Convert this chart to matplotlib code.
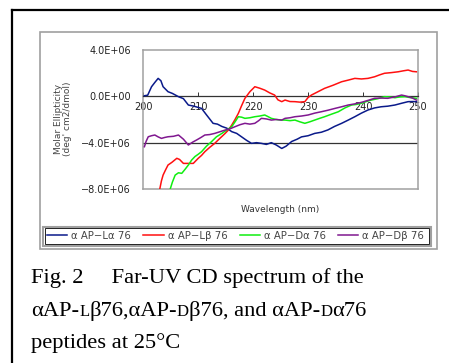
import numpy as np
import matplotlib
matplotlib.use("Agg")
import matplotlib.pyplot as plt
from matplotlib.patches import Rectangle
from matplotlib.lines import Line2D

# CD spectra (wavelength nm, ellipticity in 1E6 units)
wl_la = [200.2, 200.8, 201.5, 202.1, 202.7, 203.2, 203.6, 204.5, 205.3, 206.4, 207.3, 208.2,
         209.2, 210.6, 211.5, 212.7, 213.5, 214.3, 215.2, 216.1, 217.0, 217.9, 218.8, 219.7,
         220.6, 221.5, 222.4, 223.3, 224.2, 225.2, 226.0, 227.0, 228.0, 228.8, 230.0, 231.2,
         232.4, 233.6, 234.8, 236.1, 237.3, 238.5, 239.7, 240.9, 242.1, 243.3, 244.5, 245.8,
         247.0, 248.2, 249.0, 249.7]
ell_la = [0.05, 0.10, 0.83, 1.20, 1.55, 1.35, 0.83, 0.40, 0.25, -0.03, -0.20, -0.75,
          -0.85, -1.04, -1.60, -2.33, -2.40, -2.60, -2.75, -3.05, -3.20, -3.50, -3.80, -4.06,
          -4.00, -4.06, -4.15, -4.00, -4.20, -4.50, -4.30, -3.90, -3.70, -3.50, -3.40, -3.20,
          -3.10, -2.90, -2.60, -2.33, -2.05, -1.76, -1.45, -1.18, -1.00, -0.90, -0.85, -0.75,
          -0.60, -0.46, -0.45, -0.46]

wl_lb = [203.0, 203.3, 203.6, 204.0, 204.5, 205.2, 206.1, 206.6, 207.3, 208.2, 209.1, 210.0,
         210.6, 211.2, 212.1, 213.0, 214.0, 214.9, 215.5, 216.1, 216.7, 217.3, 217.9, 218.5,
         219.4, 220.3, 221.2, 222.1, 223.0, 223.9, 224.5, 225.2, 225.8, 226.7, 227.6, 228.5,
         229.4, 230.0, 230.6, 231.8, 233.0, 234.5, 236.1, 237.3, 238.5, 239.7, 240.9, 242.1,
         243.0, 243.9, 245.2, 246.4, 247.3, 248.2, 249.0, 249.7]
ell_lb = [-8.00, -7.30, -6.80, -6.40, -5.93, -5.70, -5.35, -5.45, -5.79, -5.79, -5.79, -5.35,
          -5.10, -4.78, -4.40, -4.06, -3.60, -3.20, -2.90, -2.48, -2.00, -1.47, -0.80, -0.17,
          0.40, 0.83, 0.70, 0.54, 0.30, 0.11, -0.30, -0.46, -0.32, -0.45, -0.46, -0.50,
          -0.46, -0.10, 0.11, 0.40, 0.69, 0.95, 1.26, 1.40, 1.55, 1.50, 1.55, 1.69,
          1.85, 1.99, 2.05, 2.12, 2.20, 2.27, 2.15, 2.12]

wl_da = [204.9, 205.3, 205.8, 206.4, 207.0, 207.6, 208.2, 208.8, 209.4, 210.0, 210.6, 211.5,
         212.4, 213.3, 214.3, 215.2, 216.1, 216.7, 217.3, 217.9, 218.5, 219.4, 220.3, 221.2,
         222.1, 222.7, 223.3, 224.2, 225.2, 225.8, 226.7, 227.6, 228.5, 229.4, 230.3, 231.2,
         232.1, 233.0, 234.2, 235.5, 236.7, 237.9, 238.8, 239.7, 240.6, 241.5, 242.7, 243.9,
         244.8, 245.8, 246.7, 247.6, 248.5, 249.7]
ell_da = [-8.00, -7.40, -6.80, -6.60, -6.65, -6.30, -5.93, -5.50, -5.20, -5.00, -4.78, -4.30,
          -3.92, -3.50, -3.20, -2.90, -2.62, -2.20, -1.76, -1.80, -1.90, -1.85, -1.76, -1.70,
          -1.61, -1.75, -1.90, -2.00, -2.05, -2.05, -2.10, -2.05, -2.20, -2.33, -2.20, -2.05,
          -1.90, -1.76, -1.55, -1.33, -1.00, -0.75, -0.70, -0.60, -0.45, -0.32, -0.20, -0.03,
          -0.05, -0.12, -0.05, -0.03, -0.10, -0.17]

wl_db = [200.2, 200.5, 200.9, 201.5, 202.1, 202.7, 203.3, 203.9, 204.5, 205.5, 206.4, 207.3,
         208.2, 209.0, 209.7, 210.5, 211.2, 212.1, 213.0, 214.0, 214.9, 215.8, 216.7, 217.6,
         218.5, 219.4, 220.3, 221.0, 221.5, 222.4, 223.3, 224.2, 225.2, 225.8, 226.7, 227.6,
         228.8, 230.0, 231.2, 232.4, 233.6, 234.9, 236.1, 237.3, 238.5, 239.7, 240.9, 242.1,
         243.3, 244.5, 245.8, 247.0, 247.6, 248.2, 249.0, 249.7]
ell_db = [-4.35, -3.90, -3.49, -3.40, -3.34, -3.50, -3.63, -3.55, -3.49, -3.45, -3.34, -3.70,
          -4.20, -3.95, -3.77, -3.55, -3.34, -3.30, -3.20, -3.05, -2.91, -2.80, -2.62, -2.45,
          -2.33, -2.40, -2.33, -2.10, -1.90, -1.95, -2.05, -2.00, -2.05, -1.90, -1.85, -1.76,
          -1.70, -1.61, -1.45, -1.33, -1.20, -1.04, -0.90, -0.75, -0.65, -0.52, -0.35, -0.17,
          -0.15, -0.17, -0.05, 0.11, 0.05, -0.03, -0.15, -0.32]

labels = ["α AP−Lα 76", "α AP−Lβ 76", "α AP−Dα 76", "α AP−Dβ 76"]
colors = ["#0a1a8a", "#ff1010", "#10ee10", "#801890"]
yticks = [4, 0, -4, -8]
ytick_labels = ["4.0E+06", "0.0E+00", "−4.0E+06", "−8.0E+06"]
xticks = [200, 210, 220, 230, 240, 250]

W, H = 449, 363
fig = plt.figure(figsize=(W / 100, H / 100), dpi=100)
fig.patch.set_facecolor("white")


def fx(px):
    return px / W


def fy(py):
    return 1 - py / H


# outer frame (only top and left edge visible)
fig.add_artist(Line2D([fx(12), fx(12)], [fy(10), 0], color="black", lw=1.6))
fig.add_artist(Line2D([fx(12), 1], [fy(10), fy(10)], color="black", lw=1.6))

# chart area box
fig.add_artist(Rectangle((fx(40), fy(249)), fx(437 - 40), (249 - 32) / H,
                         fill=False, edgecolor="#a0a0a0", lw=1.2))

ax = fig.add_axes([fx(143.3), fy(189), fx(418 - 143.3), (189 - 50) / H])
for x, y, c, lab in zip([wl_la, wl_lb, wl_da, wl_db], [ell_la, ell_lb, ell_da, ell_db], colors, labels):
    ax.plot(x, y, color=c, lw=1.1, label=lab, zorder=3)

ax.set_xlim(200, 250)
ax.set_ylim(-8, 4)
ax.axhline(-4, color="#333333", lw=0.9, zorder=1)
for s in ["left", "right", "top"]:
    ax.spines[s].set_color("#a0a0a0")
    ax.spines[s].set_linewidth(1.1)
ax.spines["bottom"].set_position(("data", 0))
ax.spines["bottom"].set_color("#333333")
ax.spines["bottom"].set_linewidth(0.9)
ax.plot([200, 250], [-8, -8], color="#a0a0a0", lw=1.1, clip_on=False, zorder=0)

ax.set_xticks(xticks)
ax.set_xticklabels([str(t) for t in xticks], fontsize=7, color="#222222")
ax.tick_params(axis="x", direction="in", length=3, width=0.7, color="#333333", pad=4)
ax.set_yticks(yticks)
ax.set_yticklabels(ytick_labels, fontsize=7, color="#222222")
ax.tick_params(axis="y", length=0, pad=9)

fig.text(fx(63), fy(119), "Molar Ellipticity\n(deg' cm2/dmol)", rotation=90,
         ha="center", va="center", fontsize=6.5, color="#444444", linespacing=1.1)
fig.text(fx(280.5), fy(209), "Wavelength (nm)", ha="center", va="center",
         fontsize=6.5, color="#333333")

# legend box with double border
fig.add_artist(Rectangle((fx(43), fy(245.5)), fx(430.5 - 43), (245.5 - 226.5) / H,
                         fill=False, edgecolor="#a0a0a0", lw=1.5))
fig.add_artist(Rectangle((fx(44.5), fy(244)), fx(429 - 44.5), (244 - 228) / H,
                         fill=False, edgecolor="#222222", lw=0.7))
fig.legend(loc="center left", bbox_to_anchor=(fx(47), fy(236)), ncol=4, fontsize=7.3,
           frameon=False, handlelength=2.0, handletextpad=0.4, columnspacing=1.2,
           borderpad=0, borderaxespad=0, labelcolor="#444444")

# caption with small caps for L and D
serif = "Liberation Serif"
fs = 16.2
small = 12.0
fig.text(fx(31), fy(283), "Fig. 2     Far-UV CD spectrum of the", fontsize=fs,
         family=serif, va="baseline", ha="left")
fig.text(fx(31), fy(348), "peptides at 25°C", fontsize=fs, family=serif,
         va="baseline", ha="left")

pieces = [("αAP-", fs), ("L", small), ("β76,αAP-", fs), ("D", small),
          ("β76, and αAP-", fs), ("D", small), ("α76", fs)]
renderer = fig.canvas.get_renderer()
xpos = 31
for txt, size in pieces:
    t = fig.text(fx(xpos), fy(316), txt, fontsize=size, family=serif,
                 va="baseline", ha="left")
    bb = t.get_window_extent(renderer=renderer)
    xpos += bb.width

fig.savefig("out.png", dpi=100)
